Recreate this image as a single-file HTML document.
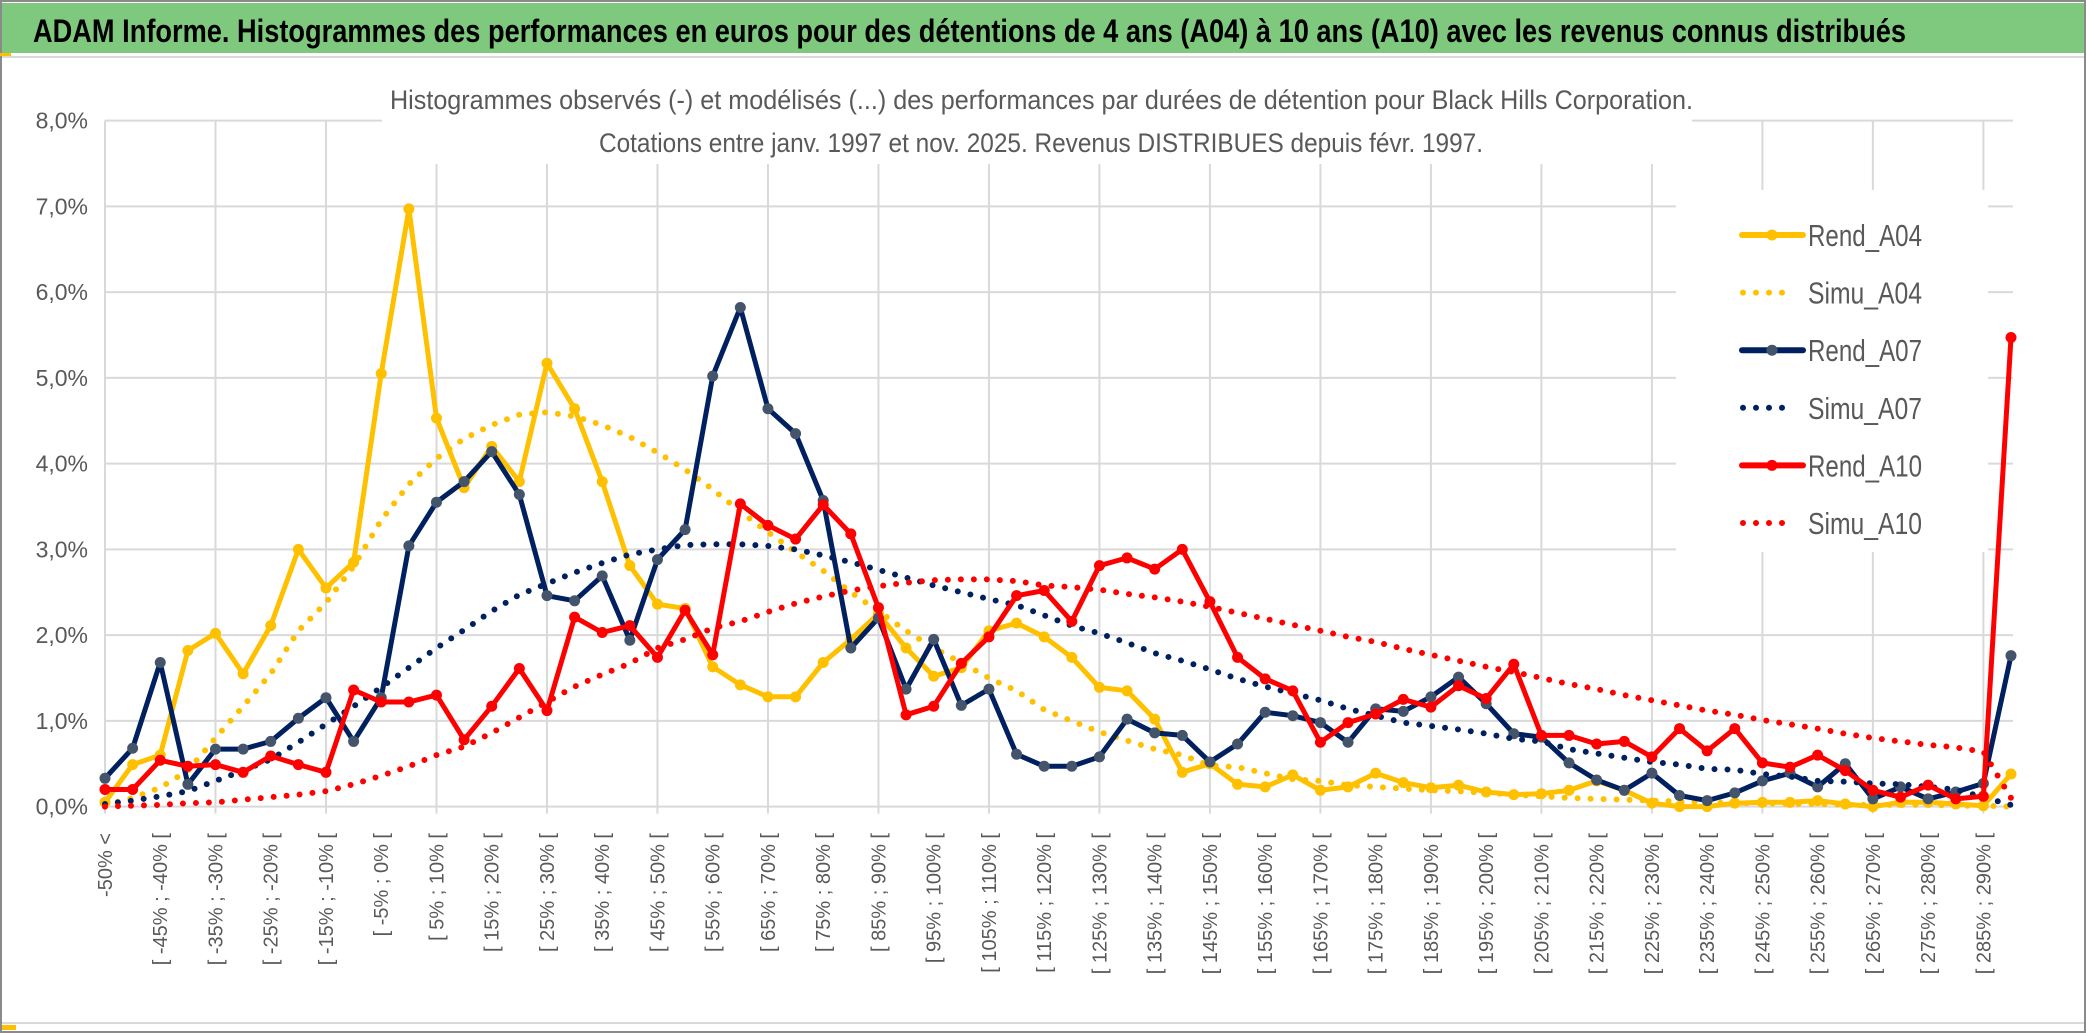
<!DOCTYPE html>
<html><head><meta charset="utf-8"><title>ADAM Informe - Black Hills Corporation</title>
<style>
html,body{margin:0;padding:0;background:#fff;}
body{width:2086px;height:1033px;overflow:hidden;}
svg{display:block;}
</style></head>
<body>
<svg id="chart" width="2086" height="1033" viewBox="0 0 2086 1033" xmlns="http://www.w3.org/2000/svg" font-family="'Liberation Sans', sans-serif">
  <rect x="0" y="0" width="2086" height="1033" fill="#fff"/>
  <rect x="1" y="1" width="2084" height="1031" fill="none" stroke="#8a8a8a" stroke-width="2"/>
  <rect x="2" y="3" width="2082" height="50" fill="#7fc97f"/>
  <text x="33" y="42" font-size="32" font-weight="bold" fill="#000" textLength="1873" lengthAdjust="spacingAndGlyphs">ADAM Informe. Histogrammes des performances en euros pour des détentions de 4 ans (A04) à 10 ans (A10) avec les revenus connus distribués</text>
  <line x1="2" y1="57" x2="2084" y2="57" stroke="#d9d9d9" stroke-width="2"/>
  <line x1="2" y1="1023" x2="2084" y2="1023" stroke="#d9d9d9" stroke-width="2"/>
  <rect x="2" y="1025" width="14" height="5" fill="#ffc000"/>
  <rect x="0" y="53" width="11" height="3" fill="#ffc000"/>
  <g id="grid"></g>
  <g id="yaxis"></g>
  <g id="xaxis"></g>
  <g id="series"></g>
  <rect x="382" y="82" width="1310" height="82" fill="#fff"/>
  <text x="390" y="109" font-size="27" fill="#595959" textLength="1303" lengthAdjust="spacingAndGlyphs">Histogrammes observés (-) et modélisés (...) des performances par durées de détention pour Black Hills Corporation.</text>
  <text x="599" y="152" font-size="27" fill="#595959" textLength="884" lengthAdjust="spacingAndGlyphs">Cotations entre janv. 1997 et nov. 2025. Revenus DISTRIBUES depuis févr. 1997.</text>
  <g id="legend"></g>
</svg>
<script>
const categories = (function(){ const c=["-50% <"]; for(let i=1;i<69;i++){const lo=-55+5*i; c.push("[ "+lo+"% ; "+(lo+5)+"% [");} c.push("> 290%"); return c; })();
const yTicks = [0,1,2,3,4,5,6,7,8];
const yTickLabels = ["0,0%","1,0%","2,0%","3,0%","4,0%","5,0%","6,0%","7,0%","8,0%"];
const seriesNames = ["Rend_A04","Simu_A04","Rend_A07","Simu_A07","Rend_A10","Simu_A10"];
const rendA04 = [0.05,0.49,0.6,1.82,2.02,1.55,2.11,3.0,2.55,2.85,5.05,6.97,4.53,3.72,4.2,3.79,5.17,4.64,3.79,2.81,2.36,2.31,1.63,1.42,1.28,1.28,1.68,1.95,2.25,1.85,1.52,1.62,2.05,2.14,1.98,1.74,1.39,1.35,1.02,0.4,0.5,0.26,0.23,0.37,0.19,0.23,0.39,0.28,0.22,0.25,0.17,0.14,0.15,0.19,0.3,0.19,0.04,0.0,0.0,0.04,0.05,0.05,0.07,0.03,0.0,0.05,0.05,0.03,0.01,0.38];
const simuA04 = [0.02,0.1,0.22,0.42,0.8,1.17,1.55,2.05,2.38,2.8,3.34,3.76,4.06,4.29,4.45,4.57,4.6,4.55,4.45,4.31,4.13,3.93,3.7,3.44,3.2,2.97,2.75,2.5,2.28,2.05,1.85,1.68,1.5,1.35,1.13,1.0,0.87,0.77,0.67,0.6,0.48,0.46,0.39,0.32,0.3,0.25,0.23,0.21,0.19,0.18,0.16,0.14,0.12,0.1,0.09,0.08,0.07,0.06,0.05,0.04,0.04,0.03,0.03,0.02,0.02,0.02,0.02,0.01,0.01,0.0];
const rendA07 = [0.33,0.68,1.68,0.26,0.67,0.67,0.76,1.03,1.27,0.76,1.27,3.04,3.55,3.79,4.14,3.64,2.46,2.4,2.69,1.94,2.88,3.23,5.02,5.82,4.64,4.35,3.57,1.85,2.2,1.37,1.95,1.18,1.37,0.61,0.47,0.47,0.58,1.02,0.86,0.83,0.52,0.73,1.1,1.06,0.98,0.75,1.14,1.11,1.28,1.51,1.2,0.85,0.81,0.51,0.31,0.19,0.39,0.13,0.07,0.16,0.3,0.39,0.23,0.5,0.09,0.23,0.09,0.17,0.27,1.76];
const simuA07 = [0.03,0.07,0.12,0.18,0.3,0.42,0.55,0.75,0.96,1.17,1.39,1.62,1.85,2.06,2.28,2.47,2.6,2.73,2.84,2.94,3.0,3.05,3.06,3.06,3.04,3.0,2.93,2.85,2.76,2.67,2.58,2.5,2.42,2.35,2.23,2.11,2.02,1.91,1.79,1.7,1.6,1.49,1.4,1.32,1.24,1.14,1.06,0.98,0.94,0.9,0.85,0.79,0.76,0.67,0.62,0.57,0.52,0.49,0.44,0.43,0.38,0.35,0.3,0.29,0.27,0.26,0.23,0.2,0.11,0.02];
const rendA10 = [0.2,0.2,0.54,0.47,0.49,0.4,0.59,0.49,0.4,1.36,1.22,1.22,1.3,0.78,1.17,1.61,1.12,2.21,2.03,2.11,1.74,2.29,1.77,3.53,3.28,3.12,3.52,3.18,2.32,1.07,1.17,1.67,1.98,2.46,2.52,2.16,2.81,2.9,2.77,3.0,2.39,1.74,1.49,1.35,0.75,0.98,1.08,1.25,1.16,1.41,1.26,1.66,0.83,0.83,0.73,0.76,0.58,0.91,0.65,0.91,0.51,0.46,0.6,0.42,0.19,0.11,0.25,0.09,0.12,5.47];
const simuA10 = [0,0.01,0.02,0.04,0.05,0.08,0.11,0.14,0.18,0.26,0.36,0.47,0.6,0.7,0.86,1.04,1.22,1.4,1.54,1.67,1.85,1.95,2.08,2.16,2.27,2.37,2.45,2.52,2.57,2.61,2.64,2.65,2.65,2.63,2.58,2.56,2.53,2.48,2.44,2.39,2.33,2.26,2.19,2.12,2.05,1.98,1.92,1.84,1.77,1.7,1.63,1.57,1.5,1.43,1.37,1.3,1.24,1.18,1.12,1.07,1.01,0.96,0.91,0.85,0.8,0.76,0.72,0.69,0.64,0.1];

const NS="http://www.w3.org/2000/svg";
const X0=105, X1=2011, Y0=806.6, YTOP=120.6, YMAX=8, PLOT_R=2013;
function xPos(i){ return X0 + i*(X1-X0)/(categories.length-1); }
function yPos(v){ return Y0 - v*(Y0-YTOP)/YMAX; }
function mk(tag, attrs, parent){ const e=document.createElementNS(NS,tag); for(const k in attrs) e.setAttribute(k, attrs[k]); parent.appendChild(e); return e; }

const grid=document.getElementById('grid');
yTicks.forEach(function(t){
  const l=mk('line',{x1:X0,x2:PLOT_R,y1:yPos(t),y2:yPos(t),stroke:'#d9d9d9','stroke-width':2},grid);
  
  
});
for(let i=0;i<categories.length;i+=4){
  const l=mk('line',{x1:xPos(i),x2:xPos(i),y1:YTOP,y2:Y0+7,stroke:'#d9d9d9','stroke-width':2},grid);
  
  
}
const yaxis=document.getElementById('yaxis');
yTicks.forEach(function(t,k){
  const tx=mk('text',{x:88,y:yPos(t)+8,'text-anchor':'end','font-size':23,fill:'#595959'},yaxis);
  tx.textContent=yTickLabels[k];
  
  
});
const xaxis=document.getElementById('xaxis');
for(let i=0;i<categories.length;i+=2){
  const xx=xPos(i)+7, yy=833;
  const tx=mk('text',{x:xx,y:yy,'text-anchor':'end','font-size':20,fill:'#595959',transform:'rotate(-90 '+xx+' '+yy+')'},xaxis);
  tx.textContent=categories[i];
  
  
}

const seriesDefs=[
  {name:seriesNames[0],data:rendA04,color:'#ffc000',marker:'#ffc000',dotted:false},
  {name:seriesNames[1],data:simuA04,color:'#ffc000',dotted:true},
  {name:seriesNames[2],data:rendA07,color:'#002060',marker:'#44546a',dotted:false},
  {name:seriesNames[3],data:simuA07,color:'#002060',dotted:true},
  {name:seriesNames[4],data:rendA10,color:'#ff0000',marker:'#ff0000',dotted:false},
  {name:seriesNames[5],data:simuA10,color:'#ff0000',dotted:true}
];
const sg=document.getElementById('series');
seriesDefs.forEach(function(s){
  const g=mk('g',{},sg);
  
  
  const pts=s.data.map(function(v,i){return xPos(i).toFixed(1)+','+yPos(v).toFixed(1);}).join(' ');
  const pl=mk('polyline',{points:pts,fill:'none',stroke:s.color,'stroke-width':s.dotted?6:5,'stroke-linejoin':'round','stroke-linecap':'round'},g);
  if(s.dotted){ pl.setAttribute('stroke-dasharray','0 13'); }
  
  
  if(!s.dotted){
    s.data.forEach(function(v,i){
      const c=mk('circle',{cx:xPos(i),cy:yPos(v),r:5.5,fill:s.marker},g);
      
      
    });
  }
});

const lg=document.getElementById('legend');
mk('rect',{x:1676,y:190,width:312,height:362,fill:'#fff'},lg);
seriesDefs.forEach(function(s,k){
  const y=235+k*57.6;
  const e=mk('g',{},lg);
  
  
  if(s.dotted){
    mk('line',{x1:1743,x2:1792,y1:y,y2:y,stroke:s.color,'stroke-width':6,'stroke-linecap':'round','stroke-dasharray':'0 13'},e);
  } else {
    mk('line',{x1:1742,x2:1803,y1:y,y2:y,stroke:s.color,'stroke-width':6,'stroke-linecap':'round'},e);
    mk('circle',{cx:1772,cy:y,r:5.5,fill:s.marker},e);
  }
  const t=mk('text',{x:1808,y:y+11,'font-size':31,fill:'#595959',textLength:114,lengthAdjust:'spacingAndGlyphs'},e);
  t.textContent=s.name;
});
</script>
</body></html>
